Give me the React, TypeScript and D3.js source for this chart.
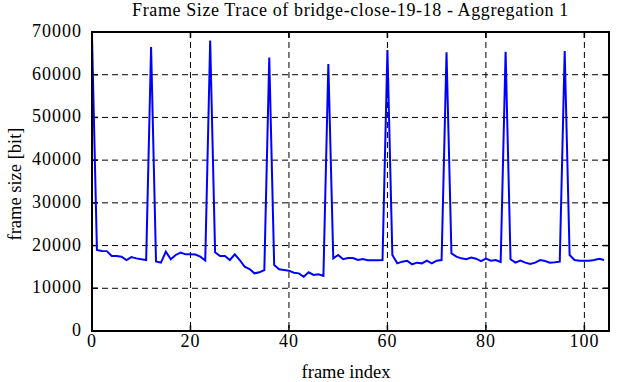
import React from "react";
import * as d3 from "d3";

const title = "Frame Size Trace of bridge-close-19-18 - Aggregation 1";
const xLabel = "frame index";
const yLabel = "frame size [bit]";
const xTicks = [0, 20, 40, 60, 80, 100];
const yTicks = [0, 10000, 20000, 30000, 40000, 50000, 60000, 70000];
const frameSizes = [
  69000, 18960, 18730, 18700, 17560, 17560, 17400, 16620, 17300, 17000, 16800, 16600,
  66500, 16300, 16000, 18570, 16800, 17800, 18360, 17950, 17950, 17900, 17400, 16500,
  68000, 18420, 17560, 17560, 16620, 17950, 16620, 15060, 14520, 13500, 13740, 14280,
  64000, 15450, 14450, 14280, 14120, 13650, 13500, 12710, 13740, 13110, 13270, 12880,
  62500, 17010, 17800, 16800, 17100, 17100, 16620, 16850, 16550, 16550, 16550, 16620,
  65800, 17800, 15840, 16230, 16460, 15620, 16000, 15840, 16460, 15840, 16460, 16620,
  65250, 18190, 17400, 17010, 16800, 17200, 16930, 16380, 16930, 16460, 16620, 16150,
  65400, 16800, 16000, 16460, 16000, 15700, 16000, 16620, 16380, 16000, 16080, 16230,
  65550, 17800, 16620, 16460, 16460, 16460, 16620, 16930, 16620,
];

export default function App() {
  const W = 627, H = 382;
  const L = 92, R = 609, T = 32, B = 331;
  const x = d3.scaleLinear().domain([0, 105]).range([L, R]);
  const y = d3.scaleLinear().domain([0, 70000]).range([B, T]);
  const line = d3.line<number>().x((_, i) => x(i)).y((d) => y(d));
  const font = "'Liberation Serif', 'DejaVu Serif', serif";
  const tickLen = 6;
  return (
    <svg width={W} height={H} style={{ position: "absolute", left: 0, top: 0, background: "#fff" }}
      fontFamily={font}>
      <rect x={0} y={0} width={W} height={H} fill="#fff" />
      {xTicks.filter((t) => t > 0).map((t) => (
        <line key={"gx" + t} x1={x(t)} x2={x(t)} y1={T} y2={B} stroke="#000" strokeWidth={1}
          strokeDasharray="6,4" />
      ))}
      {yTicks.filter((t) => t > 0 && t < 70000).map((t) => (
        <line key={"gy" + t} x1={L} x2={R} y1={y(t)} y2={y(t)} stroke="#000" strokeWidth={1}
          strokeDasharray="6,4" />
      ))}
      {xTicks.map((t) => (
        <g key={"tx" + t}>
          <line x1={x(t)} x2={x(t)} y1={B} y2={B - tickLen} stroke="#000" strokeWidth={1.5} />
          <line x1={x(t)} x2={x(t)} y1={T} y2={T + tickLen} stroke="#000" strokeWidth={1.5} />
          <text x={x(t)} y={347} textAnchor="middle" fontSize={18} letterSpacing={1}>{t}</text>
        </g>
      ))}
      {yTicks.map((t) => (
        <g key={"ty" + t}>
          <line x1={L} x2={L + tickLen} y1={y(t)} y2={y(t)} stroke="#000" strokeWidth={1.5} />
          <line x1={R} x2={R - tickLen} y1={y(t)} y2={y(t)} stroke="#000" strokeWidth={1.5} />
          <text x={82} y={y(t) + 5} textAnchor="end" fontSize={18} letterSpacing={1}>{t}</text>
        </g>
      ))}
      <path d={line(frameSizes) || ""} fill="none" stroke="#0000ff" strokeWidth={2} />
      <rect x={L} y={T} width={R - L} height={B - T} fill="none" stroke="#000" strokeWidth={2} />
      <text x={350.5} y={16} textAnchor="middle" fontSize={18} letterSpacing={0.6}>{title}</text>
      <text x={346} y={378} textAnchor="middle" fontSize={18.5}>{xLabel}</text>
      <text transform={`translate(20.5,184) rotate(-90)`} textAnchor="middle" fontSize={18.5}>
        {yLabel}
      </text>
    </svg>
  );
}
